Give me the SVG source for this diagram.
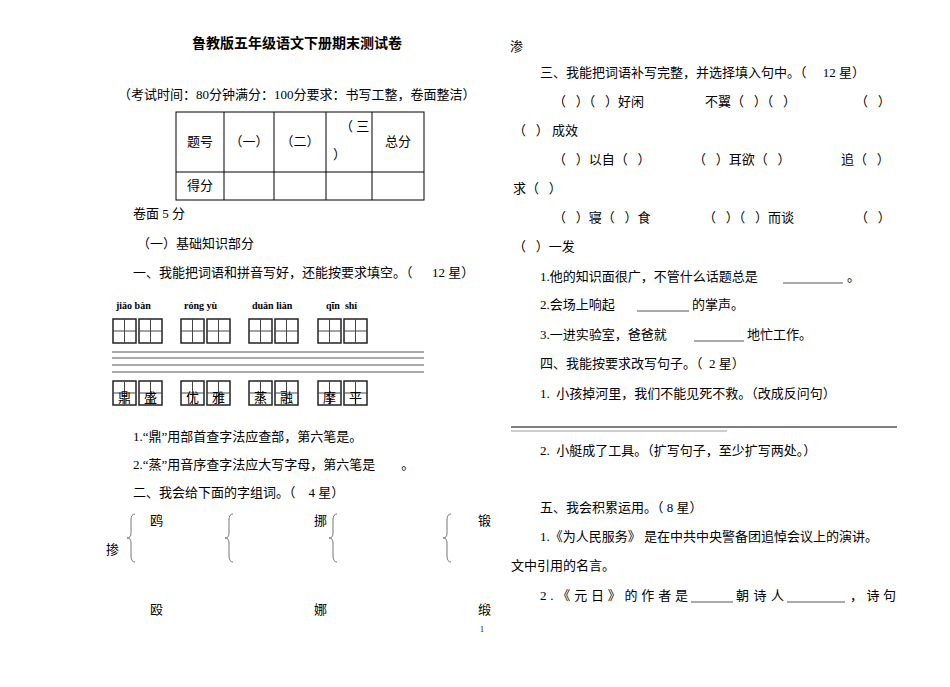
<svg xmlns="http://www.w3.org/2000/svg" width="950" height="687" viewBox="0 0 950 687">
<defs><style>
text{font-family:"Liberation Serif","Noto Sans CJK SC",serif;font-size:13px;fill:#000;white-space:pre}
.b{font-weight:bold}
.py{font-size:10px;font-weight:bold}
.bx{fill:none;stroke:#222;stroke-width:1.5}
.gd{stroke:#444;stroke-width:1}
.ln{stroke:#555;stroke-width:1}
.br{fill:none;stroke:#777;stroke-width:1}
</style>
<g id="tg"><rect class="bx" width="23" height="24"/><line class="gd" x1="11.5" y1="0" x2="11.5" y2="24"/><line class="gd" x1="0" y1="12" x2="23" y2="12"/></g>
<path id="brace" class="br" d="M6 0 Q2 0 2 6 L2 19 Q2 24 -2 24 Q2 24 2 29 L2 42 Q2 48 6 48"/>
</defs>
<rect width="950" height="687" fill="#fff"/>
<g id="left">
<text x="297" y="48" text-anchor="middle" class="b" style="font-size:14px">鲁教版五年级语文下册期末测试卷</text>
<text x="118" y="99">（考试时间：80分钟满分：100分要求：书写工整，卷面整洁）</text>
<g id="table" stroke="#000" stroke-width="1" fill="none">
<rect x="176" y="112" width="248" height="88"/>
<line x1="176" y1="172" x2="424" y2="172"/>
<line x1="224" y1="112" x2="224" y2="200"/><line x1="274" y1="112" x2="274" y2="200"/>
<line x1="326" y1="112" x2="326" y2="200"/><line x1="372" y1="112" x2="372" y2="200"/>
</g>
<text x="200" y="146" text-anchor="middle">题号</text>
<text x="249" y="146" text-anchor="middle">（一）</text>
<text x="300" y="146" text-anchor="middle">（二）</text>
<text x="340" y="131" xml:space="preserve">（ 三</text>
<text x="333" y="159">）</text>
<text x="398" y="146" text-anchor="middle">总分</text>
<text x="200" y="190" text-anchor="middle">得分</text>
<text x="133" y="218">卷面 5 分</text>
<text x="137" y="248">（一）基础知识部分</text>
<text x="133" y="277" xml:space="preserve">一、我能把词语和拼音写好，还能按要求填空。（      12 星）</text>
<g id="pinyin">
<text class="py" x="116" y="309">jiǎo bàn</text>
<text class="py" x="184" y="309">róng yù</text>
<text class="py" x="252" y="309">duǎn liàn</text>
<text class="py" x="326" y="309" xml:space="preserve">qīn  shí</text>
</g>
<g id="grid1">
<use href="#tg" x="113" y="319"/><use href="#tg" x="139" y="319"/>
<use href="#tg" x="181" y="319"/><use href="#tg" x="207" y="319"/>
<use href="#tg" x="249" y="319"/><use href="#tg" x="275" y="319"/>
<use href="#tg" x="318" y="319"/><use href="#tg" x="344" y="319"/>
</g>
<g id="lines">
<line class="ln" x1="112" y1="352" x2="424" y2="352"/>
<line class="ln" x1="112" y1="358" x2="424" y2="358"/>
<line class="ln" x1="112" y1="365" x2="424" y2="365" stroke-width="1.5"/>
<line class="ln" x1="112" y1="372" x2="424" y2="372"/>
</g>
<g id="grid2">
<use href="#tg" x="113" y="381"/><use href="#tg" x="139" y="381"/>
<use href="#tg" x="181" y="381"/><use href="#tg" x="207" y="381"/>
<use href="#tg" x="249" y="381"/><use href="#tg" x="275" y="381"/>
<use href="#tg" x="318" y="381"/><use href="#tg" x="344" y="381"/>
<g style="font-size:12px" text-anchor="middle">
<text x="124.5" y="402">鼎</text><text x="150.5" y="402">盛</text>
<text x="192.5" y="402">优</text><text x="218.5" y="402">雅</text>
<text x="260.5" y="402">蒸</text><text x="286.5" y="402">融</text>
<text x="329.5" y="402">摩</text><text x="355.5" y="402">平</text>
</g>
</g>
<text x="133" y="441">1.“鼎”用部首查字法应查部，第六笔是。</text>
<text x="133" y="469" xml:space="preserve">2.“蒸”用音序查字法应大写字母，第六笔是        。</text>
<text x="133" y="497" xml:space="preserve">二、我会给下面的字组词。（    4 星）</text>
<g id="braces">
<use href="#brace" x="129" y="514"/><use href="#brace" x="227" y="514"/>
<use href="#brace" x="331" y="514"/><use href="#brace" x="445" y="514"/>
</g>
<text x="150" y="525">鸥</text><text x="106" y="554">掺</text>
<text x="314" y="525">挪</text><text x="478" y="525">锻</text>
<text x="150" y="614">殴</text><text x="314" y="614">娜</text><text x="478" y="614">缎</text>
</g>
<g id="right">
<text x="510" y="51">渗</text>
<text x="540" y="77" xml:space="preserve">三、我能把词语补写完整，并选择填入句中。（     12 星）</text>
<text x="553" y="106" xml:space="preserve">（   ）（   ）好闲</text>
<text x="705" y="106" xml:space="preserve">不翼（   ）（   ）</text>
<text x="855" y="106" xml:space="preserve">（   ）</text>
<text x="513" y="135" xml:space="preserve">（   ） 成效</text>
<text x="553" y="164" xml:space="preserve">（   ）以自（   ）</text>
<text x="693" y="164" xml:space="preserve">（   ）耳欲（   ）</text>
<text x="841" y="164" xml:space="preserve">追（   ）</text>
<text x="513" y="193" xml:space="preserve">求（   ）</text>
<text x="553" y="222" xml:space="preserve">（   ）寝（   ）食</text>
<text x="703" y="222" xml:space="preserve">（   ）（   ）而谈</text>
<text x="855" y="222" xml:space="preserve">（   ）</text>
<text x="513" y="251" xml:space="preserve">（   ）一发</text>
<text x="540" y="281">1.他的知识面很广，不管什么话题总是</text>
<line class="ln" x1="783" y1="283" x2="843" y2="283"/><text x="847" y="281">。</text>
<text x="540" y="309">2.会场上响起</text>
<line class="ln" x1="637" y1="311" x2="689" y2="311"/><text x="692" y="309">的掌声。</text>
<text x="540" y="339">3.一进实验室，爸爸就</text>
<line class="ln" x1="694" y1="341" x2="744" y2="341"/><text x="747" y="339">地忙工作。</text>
<text x="540" y="368" xml:space="preserve">四、我能按要求改写句子。（  2 星）</text>
<text x="540" y="398" xml:space="preserve">1.  小孩掉河里，我们不能见死不救。（改成反问句）</text>
<line stroke="#000" x1="511" y1="427" x2="897" y2="427"/>
<line stroke="#999" x1="511" y1="431" x2="727" y2="431"/>
<text x="540" y="455" xml:space="preserve">2.  小艇成了工具。（扩写句子，至少扩写两处。）</text>
<text x="540" y="512" xml:space="preserve">五、我会积累运用。（ 8 星）</text>
<text x="540" y="541" xml:space="preserve">1.《为人民服务》 是在中共中央警备团追悼会议上的演讲。</text>
<text x="511" y="570">文中引用的名言。</text>
<text x="540" y="600" textLength="148" lengthAdjust="spacing">2.《元日》的作者是</text>
<line class="ln" x1="691" y1="602" x2="733" y2="602"/>
<text x="736" y="600" textLength="48" lengthAdjust="spacing">朝诗人</text>
<line class="ln" x1="787" y1="602" x2="845" y2="602"/>
<text x="850" y="600" textLength="46" lengthAdjust="spacing">，诗句</text>
</g>
<text x="480" y="632" style="font-size:8px">1</text>
</svg>
